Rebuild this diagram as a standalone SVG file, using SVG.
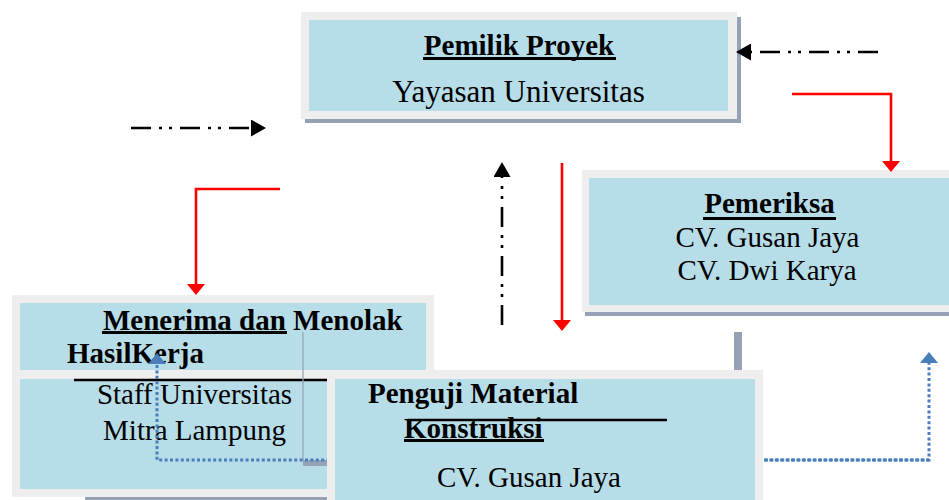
<svg xmlns="http://www.w3.org/2000/svg" width="949" height="500" viewBox="0 0 949 500">
<style>
.frame{fill:#eeeeee}
.inner{fill:#b7dde8}
.shadow{fill:#95a2b6}
.t{font-family:"Liberation Serif","Times New Roman",serif;font-size:29px;fill:#000}
.b{font-weight:bold}
.ul{stroke:#000;stroke-width:3}
.dd{fill:none;stroke:#000;stroke-width:2.6;stroke-dasharray:20 8 3 7 3 8}
.red{fill:none;stroke:#ff0000;stroke-width:2.6}
.dot{fill:none;stroke:#4a7ebb;stroke-width:3;stroke-dasharray:3 2.4}
</style>
<defs>
<marker id="ab" markerUnits="userSpaceOnUse" markerWidth="16" markerHeight="17" refX="0" refY="8.5" orient="auto"><path d="M0,0 L15,8.5 L0,17 z" fill="#000"/></marker>
<marker id="ar" markerUnits="userSpaceOnUse" markerWidth="12" markerHeight="18" refX="0" refY="9" orient="auto"><path d="M0,0 L11,9 L0,18 z" fill="#ff0000"/></marker>
<marker id="abl" markerUnits="userSpaceOnUse" markerWidth="12" markerHeight="18" refX="0" refY="9" orient="auto"><path d="M0,0 L11,9 L0,18 z" fill="#4a7ebb"/></marker>
</defs>

<g id="node-menerima">
<rect class="frame" x="12" y="295" width="422" height="83"/>
<rect class="inner" x="20" y="303" width="406" height="67"/>
<text class="t b" x="103" y="330">Menerima dan Menolak</text>
<line class="ul" x1="102" y1="332.5" x2="287" y2="332.5"/>
<text class="t b" x="67" y="363">HasilKerja</text>
</g>

<g id="node-staff">
<rect class="shadow" x="85" y="496" width="260" height="4"/>
<rect class="frame" x="12" y="370" width="422" height="127"/>
<rect class="inner" x="20" y="379" width="406" height="110"/>
<text class="t" x="194.5" y="404" text-anchor="middle">Staff Universitas</text>
<text class="t" x="194.5" y="440" text-anchor="middle">Mitra Lampung</text>
<line x1="74" y1="380" x2="330" y2="380" stroke="#000" stroke-width="2.4"/>
<line x1="303" y1="332" x2="303" y2="461" stroke="#8fa2b2" stroke-width="1.2"/>
<rect class="shadow" x="303" y="460" width="26" height="6"/>
</g>

<g id="connectors-under">
<path class="dot" d="M929,460 L157,460 L157,364" marker-end="url(#abl)"/>
<path class="dot" d="M765,460 L929,460 L929,363" marker-end="url(#abl)"/>
</g>

<g id="node-penguji">
<rect class="shadow" x="734" y="332" width="8" height="38"/>
<rect class="frame" x="327" y="370" width="436" height="135"/>
<rect class="inner" x="335" y="379" width="420" height="126"/>
<text class="t b" x="368" y="403">Penguji Material</text>
<line x1="408" y1="420" x2="667" y2="420" stroke="#000" stroke-width="2.6"/>
<text class="t b" x="404" y="438">Konstruksi</text>
<line class="ul" x1="404" y1="440.5" x2="544" y2="440.5"/>
<text class="t" x="529" y="487" text-anchor="middle">CV. Gusan Jaya</text>
</g>

<g id="node-pemilik">
<rect class="shadow" x="305" y="17" width="436" height="106"/>
<rect class="frame" x="301" y="12" width="436" height="107"/>
<rect class="inner" x="309" y="20" width="419" height="91"/>
<text class="t b" x="519" y="55" text-anchor="middle">Pemilik Proyek</text>
<line class="ul" x1="423" y1="58.5" x2="616" y2="58.5"/>
<text class="t" x="518.5" y="102" text-anchor="middle" style="font-size:31px">Yayasan Universitas</text>
</g>

<g id="node-pemeriksa">
<rect class="shadow" x="585" y="174" width="370" height="142"/>
<rect class="frame" x="582" y="170" width="370" height="142"/>
<rect class="inner" x="589" y="178" width="365" height="127"/>
<text class="t b" x="769.5" y="213" text-anchor="middle">Pemeriksa</text>
<line class="ul" x1="703" y1="218.5" x2="836" y2="218.5"/>
<text class="t" x="767.5" y="247" text-anchor="middle">CV. Gusan Jaya</text>
<text class="t" x="767" y="280" text-anchor="middle">CV. Dwi Karya</text>
</g>

<g id="connectors">
<path class="dd" d="M131,128 L251,128" marker-end="url(#ab)"/>
<path class="dd" d="M878,52 L751,52" marker-end="url(#ab)"/>
<path class="dd" d="M502,325 L502,177" marker-end="url(#ab)"/>
<path class="red" d="M562,163 L562,320" marker-end="url(#ar)"/>
<path class="red" d="M792,94 L891,94 L891,161" marker-end="url(#ar)"/>
<path class="red" d="M280,189 L196,189 L196,284" marker-end="url(#ar)"/>
</g>
</svg>
